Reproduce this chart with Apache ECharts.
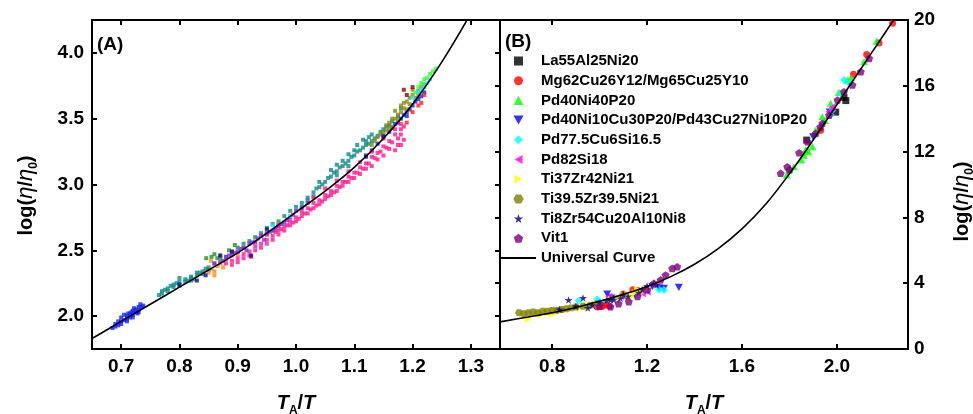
<!DOCTYPE html>
<html>
<head>
<meta charset="utf-8">
<script src="https://cdn.jsdelivr.net/npm/echarts@6/dist/echarts.min.js"></script>
<style>
html,body{margin:0;padding:0;background:#fff;}
#chart{width:973px;height:414px;}
</style>
</head>
<body>
<div id="chart"></div>
<script>
// ---- panel A : tick labels ----
var ticksAX = [0.7, 0.8, 0.9, 1.0, 1.1, 1.2, 1.3];
var ticksAY = [2.0, 2.5, 3.0, 3.5, 4.0];
// ---- panel B : tick labels ----
var ticksBX = [0.8, 1.2, 1.6, 2.0];

// universal curve
var curveA = [[0.62,1.76],[0.65,1.83],[0.70,1.96],[0.75,2.09],[0.80,2.22],[0.85,2.35],[0.90,2.48],[0.95,2.63],[1.00,2.79],
    [1.05,2.95],[1.10,3.13],[1.15,3.35],[1.20,3.61],[1.25,3.93],[1.30,4.30]];
// universal curve
var curveB = [[0.58,1.65],[0.70,1.95],[0.80,2.2],[0.90,2.52],[1.00,2.9],[1.10,3.32],[1.20,3.8],[1.30,4.4],[1.40,5.15],
    [1.50,6.1],[1.60,7.3],[1.70,8.8],[1.80,10.65],[1.90,12.7],[2.00,14.85],[2.10,17.0],[2.20,19.15],[2.26,20.45]];

// panel A point clouds, one per colour
var aBlue = [[0.685,1.91],[0.69,1.94],[0.695,1.93],[0.70,1.96],[0.70,1.99],[0.705,1.97],[0.71,2.00],[0.71,1.98],[0.715,2.02],
    [0.715,1.99],[0.72,2.01],[0.72,2.04],[0.725,2.03],[0.725,2.05],[0.73,2.05],[0.73,2.07],[0.735,2.07],[0.705,2.01],
    [0.718,2.03],[0.728,2.02],[0.69,1.92],[0.695,1.96],[0.70,1.94],[0.71,1.96],[0.712,2.02],[0.72,1.99],[0.722,2.06],
    [0.73,2.03],[0.733,2.09],[0.738,2.08],
    [1.15,3.36],[1.16,3.40],[1.17,3.46],[1.18,3.50],[1.19,3.55],[1.20,3.60],[1.21,3.65],[1.14,3.31],[1.19,3.52],
    [1.12,3.21],[1.13,3.26],[1.165,3.43],[1.175,3.47],[1.185,3.53],[1.195,3.57],[1.205,3.63],[1.215,3.67],[1.22,3.70]];
var aTeal = [[0.765,2.16],[0.77,2.19],[0.775,2.20],[0.78,2.21],[0.785,2.23],[0.79,2.22],[0.795,2.25],[0.80,2.26],[0.81,2.28],
    [0.815,2.27],[0.82,2.30],[0.83,2.31],[0.835,2.33],[0.84,2.34],[0.85,2.37],[0.86,2.40],[0.88,2.45],[0.90,2.52],
    [0.92,2.57],[0.94,2.63],[0.96,2.70],[0.98,2.76],[1.00,2.83],[1.02,2.90],[1.03,2.94],[1.04,2.98],[1.05,3.02],
    [1.06,3.06],[1.07,3.10],[1.08,3.14],[1.09,3.18],[1.10,3.22],[1.11,3.26],[1.12,3.30],[1.13,3.33],[1.14,3.37],
    [1.10,3.26],[1.12,3.33],[1.08,3.18],[1.06,3.11],[1.04,3.02],[1.13,3.38],[1.15,3.42],[1.16,3.45],[1.07,3.07],
    [1.09,3.14],[0.97,2.72],[1.01,2.86],[0.962,2.65],[0.80,2.29],[0.82,2.27],
    [0.77,2.17],[0.78,2.19],[0.79,2.24],[0.80,2.23],[0.81,2.26],[0.82,2.29],[0.825,2.28],[0.83,2.33],[0.84,2.32],
    [0.845,2.36],[0.85,2.35],[0.87,2.44],[0.89,2.49],[0.91,2.55],[0.93,2.60],[0.95,2.67],[0.99,2.80],[1.01,2.83],
    [1.02,2.88],[1.03,2.91],[1.035,2.97],[1.045,3.00],[1.055,3.05],[1.065,3.09],[1.075,3.13],[1.085,3.16],
    [1.095,3.21],[1.105,3.25],[1.115,3.28],[1.125,3.31],[1.135,3.35],[1.145,3.40],[1.105,3.30],[1.115,3.34],
    [1.09,3.23],[1.07,3.15],[1.125,3.36],[1.155,3.44],[1.165,3.48],[1.175,3.52],[1.18,3.58]];
var aPink = [[0.88,2.40],[0.89,2.42],[0.90,2.44],[0.91,2.47],[0.92,2.49],[0.93,2.53],[0.94,2.55],[0.95,2.58],[0.96,2.61],
    [0.97,2.65],[0.98,2.68],[0.99,2.72],[1.00,2.75],[1.01,2.79],[1.02,2.82],[1.03,2.86],[1.04,2.88],[1.05,2.92],
    [1.06,2.95],[1.07,2.99],[1.08,3.02],[1.09,3.06],[1.10,3.09],[1.11,3.13],[1.12,3.16],[1.13,3.21],[1.14,3.24],
    [1.15,3.29],[1.16,3.33],[1.17,3.38],[1.18,3.42],[1.185,3.34],[1.175,3.30],[1.16,3.27],[1.14,3.19],[1.12,3.12],
    [1.10,3.05],[1.08,2.99],[1.06,2.92],[1.04,2.85],[1.02,2.78],[1.00,2.72],[0.98,2.65],[0.96,2.58],[0.94,2.52],
    [0.92,2.46],[0.90,2.41],[0.93,2.50],[0.95,2.62],[0.97,2.68],[1.03,2.90],[1.05,2.97],[1.07,3.03],[1.09,3.10],
    [1.11,3.17],[1.13,3.25],[1.15,3.35],[1.17,3.42],[1.18,3.46],[0.923,2.45],
    [0.985,2.69],[0.995,2.71],[1.005,2.74],[1.015,2.78],[1.025,2.81],[1.035,2.84],[1.045,2.87],[1.055,2.91],
    [1.065,2.94],[1.075,2.98],[1.085,3.02],[1.095,3.05],[1.105,3.09],[1.115,3.12],[1.125,3.16],[1.135,3.20],
    [1.145,3.25],[1.155,3.28],[1.165,3.32],[1.175,3.35],[1.18,3.38],[1.17,3.26],[1.15,3.22],[1.13,3.14],[1.11,3.08],
    [1.09,3.02],[1.07,2.95],[1.05,2.89],[1.03,2.82],[1.01,2.76],[0.99,2.69],[0.97,2.62],[0.95,2.55],[0.91,2.44],
    [0.89,2.39],[0.965,2.64],[0.975,2.66],[1.185,3.44],[1.18,3.30]];
var aViolet = [[0.88,2.45],[0.89,2.47],[0.90,2.49],[0.905,2.51],[0.91,2.52],[0.92,2.55],[0.93,2.56],[0.935,2.59],[0.94,2.61],
    [0.95,2.63],[0.96,2.65],[0.97,2.69],[0.98,2.71],[0.99,2.75],[0.875,2.42],[0.915,2.50],[0.945,2.58],[1.00,2.80],
    [1.02,2.86],[0.885,2.46],[0.895,2.48],[0.925,2.56],[0.955,2.64],[0.965,2.67],[0.975,2.70],[0.985,2.73],
    [0.995,2.77],[1.01,2.82],[0.87,2.41],[0.86,2.40]];
var aOrange = [[0.85,2.33],[0.855,2.36],[0.86,2.34],[0.865,2.38],[0.87,2.40],[0.875,2.37],[0.88,2.43],[0.89,2.46],[0.90,2.47],
    [0.91,2.52],[0.93,2.57],[0.95,2.62],[0.97,2.70],[0.86,2.31],[0.854,2.42]];
var aGreenDark = [[0.846,2.44],[0.855,2.45],[0.86,2.47],[0.865,2.44],[0.87,2.46],[0.885,2.50],[0.895,2.54]];
var aOlive = [[1.13,3.30],[1.14,3.36],[1.15,3.40],[1.155,3.45],[1.16,3.47],[1.165,3.44],[1.17,3.50],[1.175,3.53],[1.18,3.55],
    [1.18,3.60],[1.185,3.58],[1.19,3.63],[1.195,3.66],[1.20,3.68],[1.205,3.66],[1.21,3.71],[1.215,3.74],[1.22,3.76],
    [1.17,3.56],[1.19,3.57],[1.145,3.38],[1.16,3.43],[1.175,3.49],[1.185,3.62],[1.195,3.61],[1.20,3.72],[1.21,3.68],
    [1.165,3.50],[1.155,3.41],[1.135,3.33]];
var aGreen = [[1.205,3.70],[1.21,3.74],[1.215,3.77],[1.22,3.80],[1.225,3.81],[1.23,3.84],[1.235,3.86],[1.24,3.88],[1.218,3.76]];
var aCyan = [[1.20,3.66],[1.21,3.70],[1.215,3.72],[1.22,3.74],[1.225,3.77],[1.23,3.80],[0.96,2.69],[0.99,2.76]];
var aNavy = [[0.83,2.27],[0.845,2.31],[0.923,2.46],[0.89,2.49],[0.95,2.66],[1.12,3.22],[1.15,3.37],[0.80,2.24],[0.87,2.46]];
var aDarkRed = [[1.185,3.72],[1.20,3.74],[1.19,3.68]];
var aRed = [[1.20,3.55],[1.21,3.60],[1.22,3.68],[1.215,3.62],[1.19,3.47]];

// panel B, one array per alloy
var bLa = [[1.873,12.7],[1.995,14.4],[2.038,15.1],[2.03,15.3]];
var bMg = [[0.99,2.55],[1.00,2.60],[1.01,2.58],[1.02,2.67],[1.04,2.62],[1.10,3.35],[1.14,3.60],[1.16,3.55],[1.932,13.3],
    [2.07,16.7],[2.126,17.9],[2.178,18.6],[2.235,19.8]];
var bPdNiP = [[1.789,10.58],[1.819,11.08],[1.862,11.79],[1.897,12.3],[1.911,13.31],[1.939,14.12],[1.974,14.94],[2.009,15.6],
    [2.045,16.35],[2.115,17.47],[2.168,18.72],[1.80,10.9],[1.85,11.5],[1.88,12.0],[1.95,13.9],[2.06,16.5],[1.869,12.1]];
var bPdNiCuP = [[1.222,3.79],[1.334,3.75],[1.271,3.69],[1.25,3.70],[1.10,3.20],[1.05,3.10],[1.032,3.34],[1.97,14.4],[1.90,12.9]];
var bPdCuSi = [[0.912,2.94],[0.99,3.02],[1.00,2.85],[1.15,3.30],[1.25,3.60],[1.271,3.59],[1.974,14.22],[1.98,14.5],
    [2.02,15.5],[2.03,16.35],[2.052,16.15]];
var bPdSi = [[1.039,3.18],[1.10,3.20],[1.18,3.39],[1.20,3.50],[1.967,14.43],[1.98,14.7]];
var bTi37 = [[0.70,1.82],[0.75,2.10],[0.78,2.20],[0.80,2.15],[0.82,2.25],[0.85,2.35],[0.88,2.45],[0.92,2.50],[0.95,2.65],
    [0.98,2.75],[1.05,3.00],[1.08,3.10],[1.10,3.25],[1.12,3.30],[1.13,3.15],[1.15,3.40],[1.16,3.60],[1.17,3.50],
    [1.19,3.55],[1.20,3.65]];
var bTi39 = [[0.66,2.20],[0.68,2.15],[0.70,2.20],[0.72,2.25],[0.74,2.20],[0.76,2.30],[0.78,2.30],[0.80,2.35],[0.82,2.35],
    [0.84,2.40],[0.86,2.45],[0.88,2.50],[0.90,2.55],[0.93,2.60],[0.96,2.65],[0.99,2.75]];
var bTi8 = [[0.83,2.40],[0.869,2.98],[0.90,2.60],[0.93,3.10],[0.95,2.50],[0.969,2.67],[1.00,2.80],[1.03,2.95],[1.046,2.98],
    [1.06,3.00],[1.088,3.08],[1.10,3.30],[1.12,3.20],[1.165,3.42],[1.18,3.60],[1.20,3.83],[1.229,3.99],[1.24,3.90]];
var bVit1 = [[1.763,10.68],[1.791,11.08],[1.80,10.9],[1.841,11.93],[1.876,12.6],[1.911,13.11],[1.93,13.5],[1.939,13.72],
    [1.967,14.22],[2.003,15.14],[2.03,15.64],[2.066,16.05],[2.101,16.86],[2.136,17.67],[1.327,5.0],[1.306,4.9],
    [1.278,4.5],[1.257,4.2],[1.229,3.99],[1.20,3.6],[1.16,3.2],[1.123,2.88],[1.08,2.76],[1.046,2.57],[1.00,2.6]];

var FONT = "'Liberation Sans', Arial, sans-serif";

// marker shapes as paths so the legend keeps them square
var SYM = {
    square: 'path://M0,0L10,0L10,10L0,10Z',
    triUp: 'path://M5,0L10,9L0,9Z',
    triDown: 'path://M0,0L10,0L5,9Z',
    triLeft: 'path://M9,0L9,10L0,5Z',
    triRight: 'path://M0,0L0,10L9,5Z',
    diamond: 'path://M5,0L10,5L5,10L0,5Z',
    star: 'path://M5,0L6.2,3.6L10,3.6L6.9,5.9L8.1,9.5L5,7.3L1.9,9.5L3.1,5.9L0,3.6L3.8,3.6Z',
    pentagon: 'path://M5,0L10,3.6L8.1,9.5L1.9,9.5L0,3.6Z',
    hexagon: 'path://M2.5,0L7.5,0L10,4.33L7.5,8.66L2.5,8.66L0,4.33Z'
};

var chartPage = {
    chart: null,
    nameRich: {
        n: {fontFamily: FONT, fontWeight: 'bold', fontSize: 20, lineHeight: 28, color: '#000'},
        i: {fontFamily: FONT, fontStyle: 'italic', fontWeight: 'bold', fontSize: 20, lineHeight: 28, color: '#000'},
        g: {fontFamily: FONT, fontStyle: 'italic', fontWeight: 'normal', fontSize: 22, lineHeight: 28, color: '#000'},
        s: {fontFamily: FONT, fontWeight: 'bold', fontSize: 12, lineHeight: 28, verticalAlign: 'bottom', color: '#000'}
    },
    init: function () {
        this.chart = echarts.init(document.getElementById('chart'));
        this.chart.setOption(this.buildOption());
    },
    labelStyle: function (vals, margin) {
        return {
            customValues: vals, margin: margin,
            fontFamily: FONT, fontWeight: 'bold', fontSize: 19, color: '#000',
            formatter: function (v) { return (+v).toFixed(1); }
        };
    },
    lineStyle: {color: '#000', width: 2},
    dots: function (name, arr, color) {
        return {
            name: name, type: 'scatter', xAxisIndex: 0, yAxisIndex: 0, data: arr,
            symbol: 'rect', symbolSize: 4, itemStyle: {color: color}, silent: true
        };
    },
    marks: function (name, arr, color, symbol, size) {
        return {
            name: name, type: 'scatter', xAxisIndex: 2, yAxisIndex: 1, data: arr,
            symbol: symbol, symbolSize: size || 8, symbolKeepAspect: true,
            itemStyle: {color: color}, silent: true
        };
    },
    buildOption: function () {
        var _this = this;
        var xName = '{i|T}{s|A}{n|/}{i|T}';
        var yName = '{n|log(}{g|η}{n|/}{g|η}{s|0}{n|)}';
        var inTick = function (vals) {
            return {show: true, inside: true, length: 5, customValues: vals, lineStyle: {color: '#000', width: 2}};
        };
        var legendNames = ['La55Al25Ni20', 'Mg62Cu26Y12/Mg65Cu25Y10', 'Pd40Ni40P20',
            'Pd40Ni10Cu30P20/Pd43Cu27Ni10P20', 'Pd77.5Cu6Si16.5', 'Pd82Si18', 'Ti37Zr42Ni21',
            'Ti39.5Zr39.5Ni21', 'Ti8Zr54Cu20Al10Ni8', 'Vit1', 'Universal Curve'];

        return {
            animation: false,
            backgroundColor: '#fff',
            grid: [
                {left: 92, top: 20, width: 408, height: 329, outerBoundsMode: 'none'},
                {left: 500, top: 20, width: 408, height: 329, outerBoundsMode: 'none'}
            ],
            xAxis: [
                {gridIndex: 0, type: 'value', min: 0.65, max: 1.35, position: 'bottom',
                    axisLine: {show: true, onZero: false, lineStyle: _this.lineStyle},
                    axisTick: inTick(ticksAX), axisLabel: _this.labelStyle(ticksAX, 8), splitLine: {show: false},
                    name: xName, nameLocation: 'middle', nameGap: 40, nameTextStyle: {rich: _this.nameRich}},
                {gridIndex: 0, type: 'value', min: 0.65, max: 1.35, position: 'top',
                    axisLine: {show: true, onZero: false, lineStyle: _this.lineStyle},
                    axisTick: inTick(ticksAX), axisLabel: {show: false}, splitLine: {show: false}},
                {gridIndex: 1, type: 'value', min: 0.58, max: 2.3, position: 'bottom',
                    axisLine: {show: true, onZero: false, lineStyle: _this.lineStyle},
                    axisTick: inTick(ticksBX), axisLabel: _this.labelStyle(ticksBX, 8), splitLine: {show: false},
                    name: xName, nameLocation: 'middle', nameGap: 40, nameTextStyle: {rich: _this.nameRich}},
                {gridIndex: 1, type: 'value', min: 0.58, max: 2.3, position: 'top',
                    axisLine: {show: true, onZero: false, lineStyle: _this.lineStyle},
                    axisTick: inTick(ticksBX), axisLabel: {show: false}, splitLine: {show: false}}
            ],
            yAxis: [
                {gridIndex: 0, type: 'value', min: 1.75, max: 4.25, position: 'left',
                    axisLine: {show: true, onZero: false, lineStyle: _this.lineStyle},
                    axisTick: inTick(ticksAY), axisLabel: _this.labelStyle(ticksAY, 8), splitLine: {show: false},
                    name: yName, nameLocation: 'middle', nameRotate: 90, nameGap: 52,
                    nameTextStyle: {rich: _this.nameRich, padding: [0, 22, 0, 0]}},
                {gridIndex: 1, type: 'value', min: 0, max: 20, interval: 4, position: 'right',
                    axisLine: {show: true, onZero: false, lineStyle: _this.lineStyle},
                    axisTick: {show: true, inside: true, length: 5, lineStyle: {color: '#000', width: 2}},
                    axisLabel: {margin: 6, fontFamily: FONT, fontWeight: 'bold', fontSize: 19, color: '#000'},
                    splitLine: {show: false},
                    name: yName, nameLocation: 'middle', nameRotate: 90, nameGap: 40,
                    nameTextStyle: {rich: _this.nameRich, padding: [0, 34, 0, 0]}},
                {gridIndex: 1, type: 'value', min: 0, max: 20, interval: 2, position: 'left',
                    axisLine: {show: true, onZero: false, lineStyle: _this.lineStyle},
                    axisTick: {show: true, inside: false, length: 5, lineStyle: {color: '#000', width: 2}},
                    axisLabel: {show: false}, splitLine: {show: false}}
            ],
            legend: {
                data: legendNames, orient: 'vertical', left: 495, top: 48,
                itemWidth: 35, itemHeight: 9, itemGap: 3.7, selectedMode: false,
                textStyle: {fontFamily: FONT, fontWeight: 'bold', fontSize: 15, lineHeight: 16, color: '#000'}
            },
            graphic: [
                {type: 'text', left: 97, top: 35, style: {text: '(A)', font: 'bold 19px ' + FONT, fill: '#000'}},
                {type: 'text', left: 505, top: 32, style: {text: '(B)', font: 'bold 19px ' + FONT, fill: '#000'}}
            ],
            series: [
                _this.dots('a-teal', aTeal, '#0f8a86'),
                _this.dots('a-blue', aBlue, '#1020ff'),
                _this.dots('a-orange', aOrange, '#ff8c1a'),
                _this.dots('a-dkgreen', aGreenDark, '#2e8b22'),
                _this.dots('a-pink', aPink, '#ff1a8c'),
                _this.dots('a-violet', aViolet, '#8a2be2'),
                _this.dots('a-olive', aOlive, '#8a8a10'),
                _this.dots('a-green', aGreen, '#33ff33'),
                _this.dots('a-cyan', aCyan, '#22e8ff'),
                _this.dots('a-navy', aNavy, '#14148c'),
                _this.dots('a-dkred', aDarkRed, '#8b0a0a'),
                _this.dots('a-red', aRed, '#ff2020'),
                {name: 'curve-a', type: 'line', xAxisIndex: 0, yAxisIndex: 0, data: curveA, smooth: 0.4,
                    symbol: 'none', z: 5, silent: true, lineStyle: {color: '#000', width: 1.6}},

                _this.marks('La55Al25Ni20', bLa, '#000000', SYM.square, 7),
                _this.marks('Mg62Cu26Y12/Mg65Cu25Y10', bMg, '#ff0000', 'circle', 7),
                _this.marks('Pd40Ni40P20', bPdNiP, '#00ff00', SYM.triUp),
                _this.marks('Pd40Ni10Cu30P20/Pd43Cu27Ni10P20', bPdNiCuP, '#0000ff', SYM.triDown),
                _this.marks('Pd77.5Cu6Si16.5', bPdCuSi, '#00ffff', SYM.diamond),
                _this.marks('Pd82Si18', bPdSi, '#ff00ff', SYM.triLeft),
                _this.marks('Ti37Zr42Ni21', bTi37, '#ffff00', SYM.triRight),
                _this.marks('Ti39.5Zr39.5Ni21', bTi39, '#808000', SYM.hexagon),
                _this.marks('Ti8Zr54Cu20Al10Ni8', bTi8, '#000080', SYM.star),
                _this.marks('Vit1', bVit1, '#800080', SYM.pentagon),
                {name: 'Universal Curve', type: 'line', xAxisIndex: 2, yAxisIndex: 1, data: curveB, smooth: 0.4,
                    symbol: 'none', z: 5, silent: true, itemStyle: {color: 'rgba(0,0,0,0)'},
                    lineStyle: {color: '#000', width: 1.6}}
            ]
        };
    }
};

chartPage.init();
</script>
</body>
</html>
